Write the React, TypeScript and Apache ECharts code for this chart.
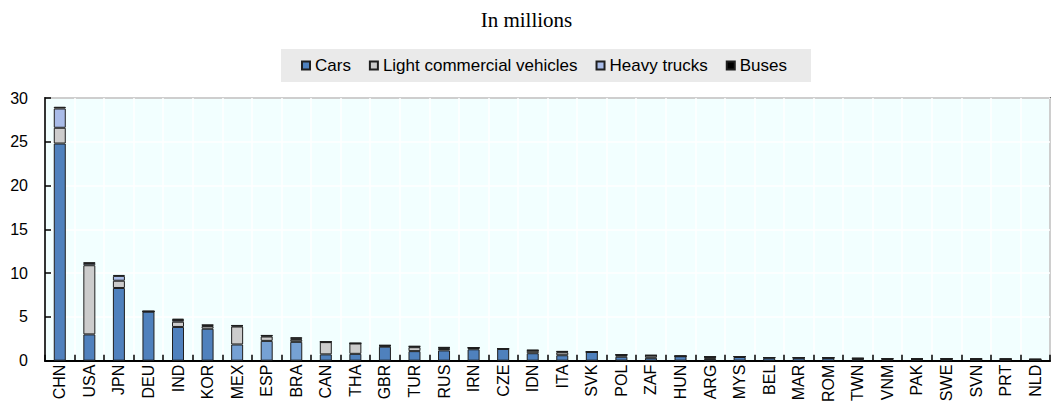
import React, { useEffect, useRef } from "react";
import * as echarts from "echarts";

const categories = ["CHN","USA","JPN","DEU","IND","KOR","MEX","ESP","BRA","CAN","THA","GBR","TUR","RUS","IRN","CZE","IDN","ITA","SVK","POL","ZAF","HUN","ARG","MYS","BEL","MAR","ROM","TWN","VNM","PAK","SWE","SVN","PRT","NLD"];
const cars = [24.8,3.0,8.3,5.6,3.85,3.65,1.85,2.26,2.15,0.72,0.78,1.6,1.09,1.17,1.3,1.35,0.85,0.62,1.0,0.45,0.33,0.5,0.2,0.42,0.33,0.33,0.33,0.2,0.12,0.17,0.2,0.19,0.13,0.14];
const lightCommercial = [1.8,7.9,0.83,0,0.6,0.3,2.05,0.5,0.25,1.4,1.18,0.1,0.45,0.17,0.15,0.01,0.28,0.33,0,0.2,0.25,0.02,0.23,0.05,0.03,0.02,0.01,0.05,0.08,0.03,0,0,0.05,0];
const heavyTrucks = [2.2,0.25,0.55,0.05,0.2,0.1,0.1,0.1,0.1,0.03,0.03,0.04,0.08,0.15,0.03,0.01,0.05,0.08,0,0.03,0.03,0,0.02,0,0,0,0,0.02,0.02,0.01,0.02,0,0.01,0.02];
const buses = [0.2,0.05,0.1,0,0.15,0.05,0.04,0.04,0.18,0.01,0.01,0.03,0.04,0.05,0.02,0.03,0.04,0.05,0,0.02,0.01,0,0,0,0,0,0,0.01,0,0.01,0,0,0,0];
const lighterCars = ["MEX","ESP","BRA"];
const yTicks = [0, 5, 10, 15, 20, 25, 30];

const BORDER = "#1f1f1f";

export default function App() {
  const ref = useRef<HTMLDivElement>(null);
  useEffect(() => {
    if (!ref.current) return;
    const chart = echarts.init(ref.current, null, { renderer: "svg" });
    const mk = (name: string, data: number[], color: string, special?: (i: number) => string | null) => ({
      name,
      type: "bar",
      stack: "total",
      barWidth: 12,
      itemStyle: { color, borderColor: BORDER, borderWidth: 1 },
      data: data.map((v, i) => {
        const c = special ? special(i) : null;
        return c ? { value: v, itemStyle: { color: c } } : v;
      }),
    });
    chart.setOption({
      animation: false,
      title: {
        text: "In millions",
        left: "center",
        top: 4,
        textStyle: { fontFamily: "Liberation Serif, Times New Roman, serif", fontSize: 21, fontWeight: "normal", color: "#000" },
      },
      legend: {
        left: 281,
        top: 49,
        backgroundColor: "#eaeaea",
        padding: [8, 24, 8, 20],
        itemWidth: 8,
        itemHeight: 8,
        itemGap: 18,
        icon: "rect",
        textStyle: { fontFamily: "Liberation Sans, Arial, sans-serif", fontSize: 17, color: "#000" },
        data: ["Cars", "Light commercial vehicles", "Heavy trucks", "Buses"],
      },
      grid: {
        left: 45,
        right: 3,
        top: 98,
        height: 265,
        show: true,
        backgroundColor: "#f2ffff",
        borderColor: "#000",
        borderWidth: 1.5,
      },
      xAxis: {
        type: "category",
        data: categories,
        boundaryGap: true,
        axisLine: { lineStyle: { color: "#000", width: 2 } },
        axisTick: { show: true, inside: true, length: 6, lineStyle: { color: "#000", width: 1.5 } },
        splitLine: { show: true, lineStyle: { color: "#ffffff", width: 1.5 } },
        axisLabel: { interval: 0, rotate: 90, fontFamily: "Liberation Sans, Arial, sans-serif", fontSize: 16, color: "#000", margin: 4 },
      },
      yAxis: {
        type: "value",
        min: yTicks[0],
        max: yTicks[yTicks.length - 1],
        interval: 5,
        axisLine: { show: true, lineStyle: { color: "#000", width: 1.5 } },
        axisTick: { show: true, inside: true, length: 6, lineStyle: { color: "#000", width: 1.5 } },
        splitLine: { show: true, lineStyle: { color: "#ffffff", width: 1.5 } },
        axisLabel: { fontFamily: "Liberation Sans, Arial, sans-serif", fontSize: 16, color: "#000", margin: 17 },
      },
      series: [
        mk("Cars", cars, "#4f81bd", (i) => (lighterCars.includes(categories[i]) ? "#76a1d4" : null)),
        mk("Light commercial vehicles", lightCommercial, "#cccccc"),
        mk("Heavy trucks", heavyTrucks, "#a9bce8"),
        mk("Buses", buses, "#000000"),
      ],
    });
    return () => chart.dispose();
  }, []);
  return <div ref={ref} style={{ position: "absolute", left: 0, top: 0, width: 1053, height: 405 }} />;
}
